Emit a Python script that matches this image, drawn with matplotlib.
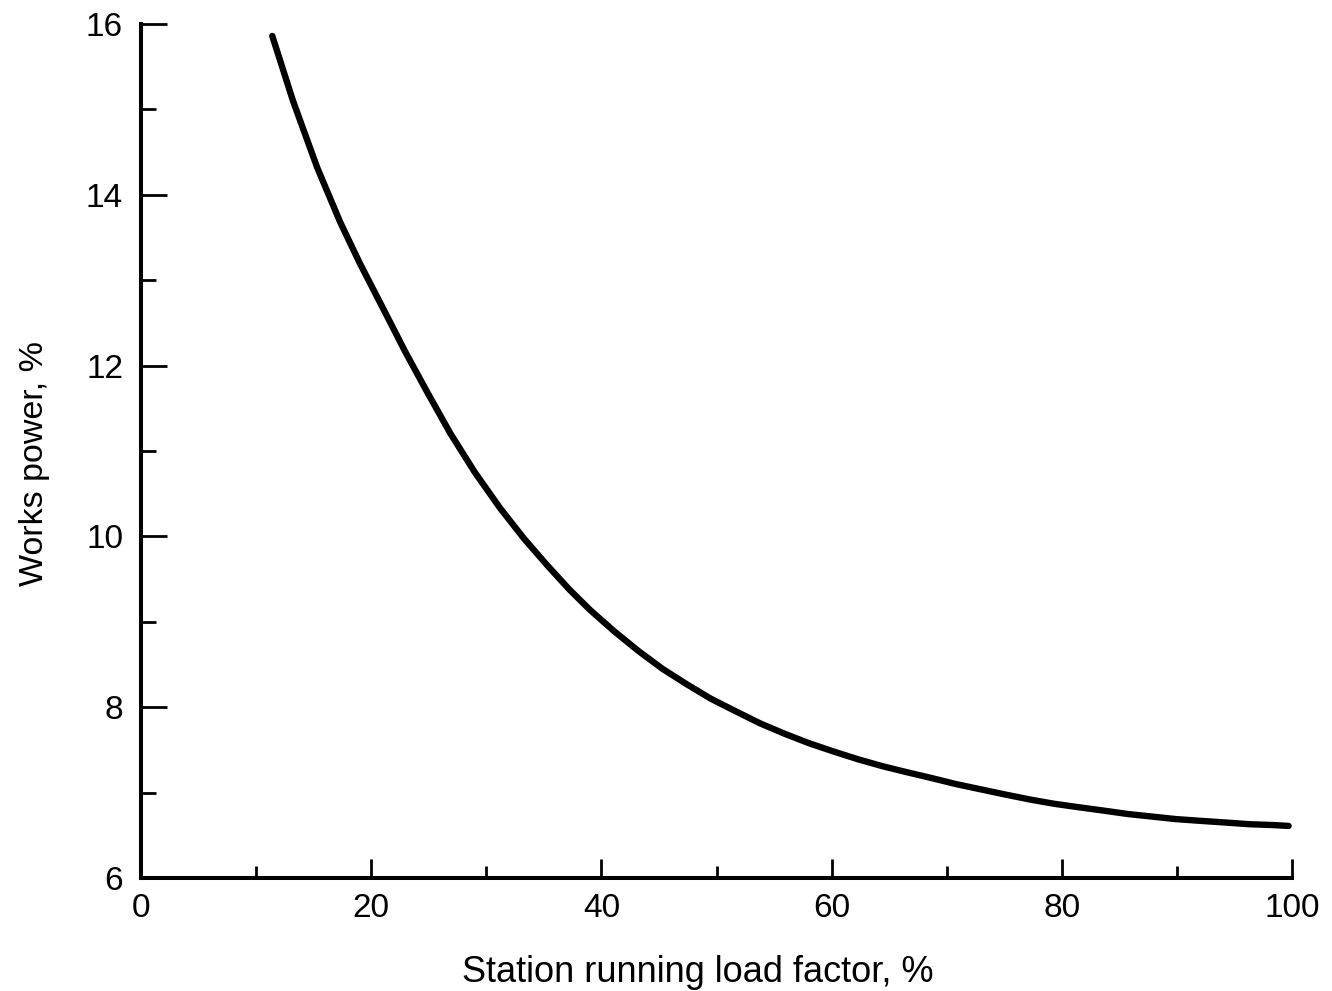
"""Works power against station running load factor (scanned book figure)."""

import matplotlib

matplotlib.use("Agg")
import matplotlib.pyplot as plt
from matplotlib.ticker import MultipleLocator

plt.rcParams["font.family"] = ["Liberation Sans", "DejaVu Sans"]

# values
load_factor = [11.4, 13.2, 15.3, 17.3, 19.0, 21.1, 23.0, 24.9, 26.9, 29.0,
               31.2, 33.3, 35.3, 37.2, 39.0, 41.1, 43.2, 45.3, 47.4, 49.5,
               51.7, 53.8, 55.9, 58.0, 60.2, 62.3, 64.4, 66.5, 68.7, 70.8,
               72.9, 75.0, 77.2, 79.3, 81.4, 83.6, 85.7, 87.8, 89.9, 92.0,
               94.2, 96.3, 98.4, 99.7]
works_power = [15.86, 15.10, 14.32, 13.68, 13.20, 12.65, 12.15, 11.68, 11.20,
               10.75, 10.33, 9.97, 9.66, 9.38, 9.14, 8.89, 8.66, 8.45, 8.27,
               8.10, 7.95, 7.81, 7.69, 7.58, 7.48, 7.39, 7.31, 7.24, 7.17,
               7.10, 7.04, 6.98, 6.92, 6.87, 6.83, 6.79, 6.75, 6.72, 6.69,
               6.67, 6.65, 6.63, 6.62, 6.61]

x_ticks = [0, 20, 40, 60, 80, 100]
y_ticks = [6, 8, 10, 12, 14, 16]

fig = plt.figure(figsize=(13.32, 9.91), dpi=100)
ax = fig.add_axes([0.1059, 0.114, 0.8641, 0.8618])

ax.plot(load_factor, works_power, color="black", lw=4.6,
        solid_capstyle="round", solid_joinstyle="round", clip_on=False)

ax.set_xlim(0, 100)
ax.set_ylim(6, 16)
ax.set_xticks(x_ticks)
ax.set_yticks(y_ticks)
ax.xaxis.set_minor_locator(MultipleLocator(10))
ax.yaxis.set_minor_locator(MultipleLocator(1))

for side in ("top", "right"):
    ax.spines[side].set_visible(False)
for side in ("left", "bottom"):
    ax.spines[side].set_linewidth(2.9)

ax.tick_params(axis="y", which="major", direction="in", length=19, width=2,
               pad=13, labelsize=24)
ax.tick_params(axis="y", which="minor", direction="in", length=11, width=2)
ax.tick_params(axis="x", which="major", direction="in", length=14, width=2,
               pad=11, labelsize=24)
ax.tick_params(axis="x", which="minor", direction="in", length=9, width=2)

ax.set_xlabel("Station running load factor, %", fontsize=26)
ax.set_ylabel("Works power, %", fontsize=24.5)
ax.xaxis.set_label_coords(0.484, -0.090)
ax.yaxis.set_label_coords(-0.079, 0.485)

fig.savefig("out.png", dpi=100)
